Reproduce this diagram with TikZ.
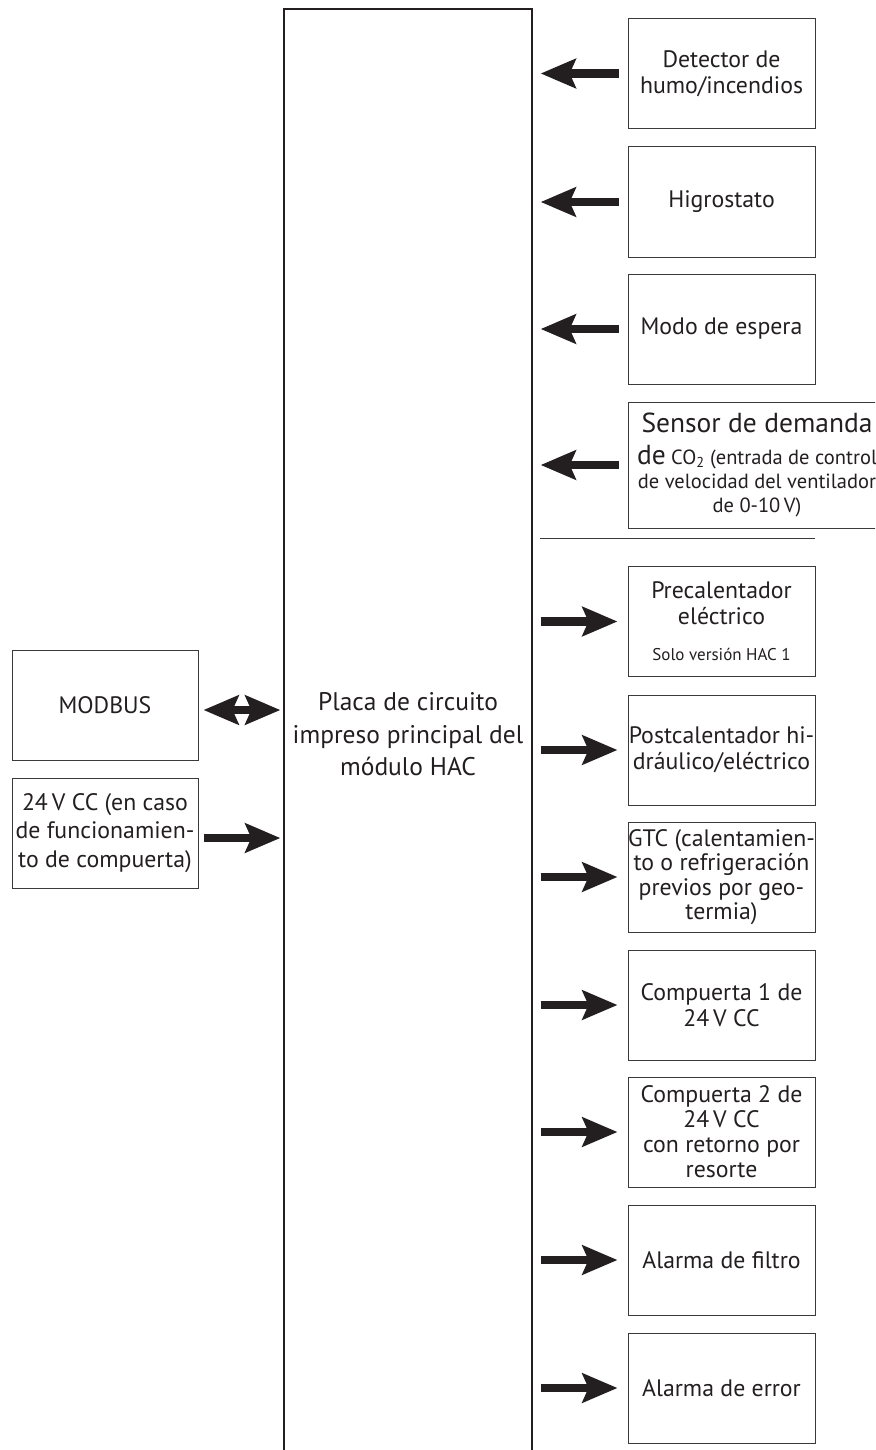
\documentclass[tikz,border=0pt]{standalone}
\usepackage{fontspec}
\setmainfont{PT Sans}
\usetikzlibrary{arrows.meta}
\definecolor{ink}{HTML}{231F20}
\definecolor{frame}{HTML}{3A3A3A}
\tikzset{
  box/.style={draw=frame, line width=1pt, minimum width=187pt, minimum height=110pt,
    inner sep=0pt, align=center, text=ink, font=\fontsize{23.8}{26}\selectfont},
  sig/.style={draw=ink, line width=8.5pt,
    -{Stealth[length=35pt,width=29pt,inset=6pt]}},
  bisig/.style={draw=ink, line width=8.5pt,
    {Stealth[length=35pt,width=29pt,inset=6pt]}-{Stealth[length=35pt,width=29pt,inset=6pt]}},
}
\begin{document}
\begin{tikzpicture}[x=1pt,y=-1pt]
\useasboundingbox (0,0) rectangle (875,1450);
\begin{scope}
\clip (0,0) rectangle (875,1450);

% main board
\node[draw=ink, line width=1.3pt, minimum width=248pt, minimum height=1451pt,
      inner sep=0pt, align=center, text=ink, font=\fontsize{25.5}{32.5}\selectfont]
  (main) at (408,734.5) {Placa de circuito\\impreso principal del\\módulo HAC};

% inputs on the right
\node[box] (smoke) at (721.5,73.5) {Detector de\\humo/incendios};
\node[box] (hygro) at (721.5,202) {Higrostato};
\node[box] (standby) at (721.5,329) {Modo de espera};
\node[box, minimum width=258pt, minimum height=126pt,
      font=\fontsize{20.5}{24}\selectfont] (co2) at (757,465)
  {{\fontsize{27.5}{30}\selectfont Sensor de demanda}\\[8pt]
   {\fontsize{27.5}{30}\selectfont de} CO\textsubscript{2} (entrada de control\\
   de velocidad del ventilador\\
   de 0-10\,V)};
\draw[frame, line width=1pt] (540,538) coordinate (sepL) -- (815,538) coordinate (sepR);

% outputs on the right
\node[box] (pre) at (721.5,621.5)
  {Precalentador\\eléctrico\\[10pt]{\fontsize{17}{18}\selectfont Solo versión HAC 1}};
\node[box] (post) at (721.5,750) {Postcalentador hi-\\dráulico/eléctrico};
\node[box, font=\fontsize{23.8}{24.5}\selectfont] (gtc) at (721.5,877)
  {GTC (calentamien-\\to o refrigeración\\previos por geo-\\termia)};
\node[box] (damp1) at (721.5,1005) {Compuerta 1 de\\24\,V CC};
\node[box, font=\fontsize{23.8}{25}\selectfont] (damp2) at (721.5,1132)
  {Compuerta 2 de\\24\,V CC\\con retorno por\\resorte};
\node[box] (filt) at (721.5,1260) {Alarma de filtro};
\node[box] (err) at (721.5,1388) {Alarma de error};

% left side
\node[box, minimum width=186pt] (modbus) at (105,705) {MODBUS};
\node[box, minimum width=186pt, font=\fontsize{23.8}{28.5}\selectfont] (supply) at (105,833)
  {24\,V CC (en caso\\de funcionamien-\\to de compuerta)};

% signal arrows into the board
\foreach \n in {smoke,hygro,standby,co2}
  \draw[sig, shorten <=9pt, shorten >=8pt] (\n.west) -- (\n.west -| main.east);
\foreach \n in {pre,post,gtc,damp1,damp2,filt,err}
  \draw[sig, shorten <=8pt, shorten >=10pt] (\n.west -| main.east) -- (\n.west);

\draw[bisig, shorten <=5pt, shorten >=3pt] ([yshift=-5pt]modbus.east) -- ([yshift=-5pt]modbus.east -| main.west);
\draw[sig, shorten <=5pt, shorten >=3pt] ([yshift=-5pt]supply.east) -- ([yshift=-5pt]supply.east -| main.west);
\end{scope}
\end{tikzpicture}
\end{document}
